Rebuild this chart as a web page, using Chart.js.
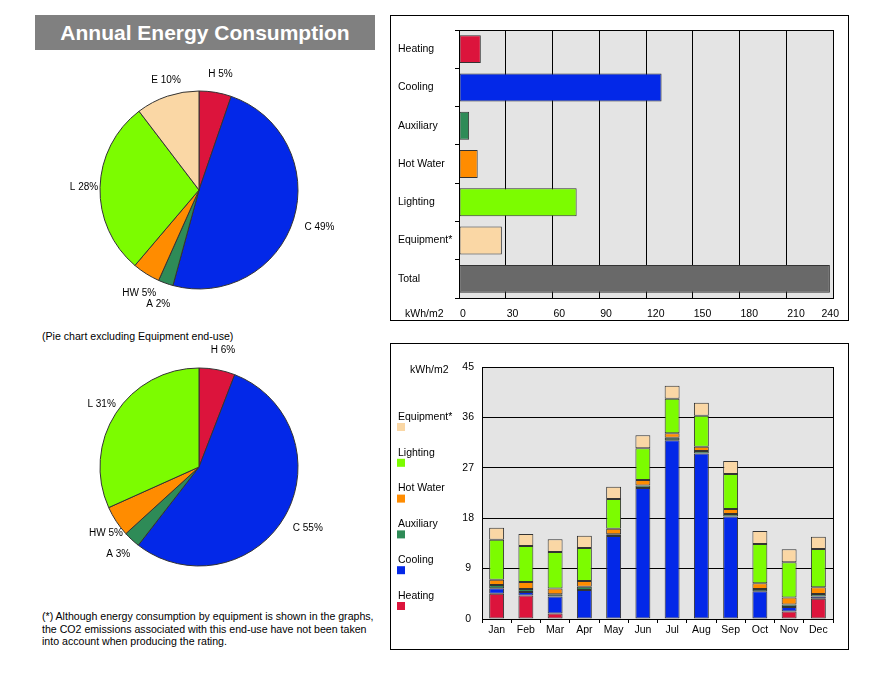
<!DOCTYPE html>
<html>
<head>
<meta charset="utf-8">
<script src="https://cdn.jsdelivr.net/npm/chart.js@4"></script>
<style>
  html, body { margin:0; padding:0; background:#fff; }
  body { width:894px; height:680px; position:relative; overflow:hidden; font-family:"Liberation Sans", Arial, sans-serif; color:#000; }
  .abs { position:absolute; }
  #title { left:35px; top:15px; width:340px; height:35px; background:#808080; color:#fff; font-weight:bold; font-size:21px; line-height:35px; text-align:center; }
  .panel { border:1px solid #000; box-sizing:border-box; }
  #sub { left:42px; top:330px; font-size:10.6px; white-space:nowrap; }
  #foot { left:42px; top:610px; font-size:10.6px; line-height:12.5px; white-space:nowrap; }
</style>
</head>
<body>
<div id="title" class="abs">Annual Energy Consumption</div>
<div id="sub" class="abs">(Pie chart excluding Equipment end-use)</div>
<div id="foot" class="abs">(*) Although energy consumption by equipment is shown in the graphs,<br>the CO2 emissions associated with this end-use have not been taken<br>into account when producing the rating.</div>
<div class="abs panel" style="left:390px;top:15px;width:459px;height:306px;"></div>
<div class="abs panel" style="left:390px;top:343px;width:459px;height:307px;"></div>
<canvas id="pie1" class="abs" width="300" height="300" style="left:49px;top:40px;"></canvas>
<canvas id="pie2" class="abs" width="300" height="300" style="left:49px;top:317px;"></canvas>
<canvas id="hbar" class="abs" width="456" height="304" style="left:391px;top:16px;"></canvas>
<canvas id="stack" class="abs" width="457" height="305" style="left:391px;top:344px;"></canvas>
<script>
// ---------- DATA ----------
const endUses = ['Heating', 'Cooling', 'Auxiliary', 'Hot Water', 'Lighting', 'Equipment*'];
const annualKwh = [14, 130, 6.5, 12, 75.5, 27.5];
const totalKwh = 238;
const barCategories = ['Heating', 'Cooling', 'Auxiliary', 'Hot Water', 'Lighting', 'Equipment*', 'Total'];
const barValues = [14, 130, 6.5, 12, 75.5, 27.5, 238];
const pieLabels1 = ['H 5%', 'C 49%', 'A 2%', 'HW 5%', 'L 28%', 'E 10%'];
const pieLabels2 = ['H 6%', 'C 55%', 'A 3%', 'HW 5%', 'L 31%'];
const xTicks = [0, 30, 60, 90, 120, 150, 180, 210, 240];
const months = ['Jan','Feb','Mar','Apr','May','Jun','Jul','Aug','Sep','Oct','Nov','Dec'];
const heating   = [4.5, 4.2, 1.0, 0,    0,    0,    0,    0,     0,    0,    1.35, 3.6];
const cooling   = [1.0, 0.6, 3.0, 5.2,  14.8, 23.4, 31.9, 29.55, 18.3, 4.95, 0.8,  0.4];
const auxiliary = [0.55,0.55,0.4, 0.55, 0.35, 0.45, 0.45, 0.45,  0.45, 0.4,  0.45, 0.45];
const hotWater  = [0.95,1.25,1.05,1.05, 0.95, 0.95, 0.8,  0.75,  0.9,  1.05, 1.25, 1.2];
const lighting  = [7.15,6.45,6.5, 5.9,  5.35, 5.7,  6.2,  5.55,  6.25, 7.0,  6.3,  6.85];
const equipment = [2.15,2.15,2.3, 2.15, 2.15, 2.3,  2.3,  2.3,   2.3,  2.3,  2.3,  2.2];
const monthlyTicks = [0, 9, 18, 27, 36, 45];

// ---------- STYLE ----------
const colors = ['#dc143c', '#0328e8', '#2e8b57', '#ff8c00', '#7cfc00', '#fad7a5'];
const totalColor = '#696969';
const plotBg = '#e4e4e4';
const edge = '#333333';
const FONT = '"Liberation Sans", Arial, sans-serif';
Chart.defaults.font.family = FONT;
Chart.defaults.color = '#000';
Chart.defaults.animation = false;

const pieLabelPlugin = {
  id: 'pieLabels',
  afterDraw(chart, args, opts) {
    const ctx = chart.ctx;
    const meta = chart.getDatasetMeta(0);
    ctx.save();
    ctx.font = '10px ' + FONT;
    ctx.fillStyle = '#000';
    ctx.textAlign = 'center';
    ctx.textBaseline = 'middle';
    meta.data.forEach((arc, i) => {
      const p = arc.getProps(['x','y','startAngle','endAngle','outerRadius'], true);
      const mid = (p.startAngle + p.endAngle) / 2 + (opts.nudge[i] || 0) * Math.PI / 180;
      const d = p.outerRadius + (opts.dist[i] || 20);
      ctx.fillText(opts.labels[i], p.x + Math.cos(mid) * d, p.y + Math.sin(mid) * d);
    });
    ctx.restore();
  }
};

function pieChart(id, values, cols, labels, dist, nudge) {
  new Chart(document.getElementById(id), {
    type: 'pie',
    data: { labels: labels, datasets: [{ data: values, backgroundColor: cols, borderColor: edge, borderWidth: 1 }] },
    options: {
      responsive: false,
      radius: 99,
      layout: { padding: 0 },
      plugins: { legend: { display: false }, tooltip: { enabled: false },
                 pieLabels: { labels: labels, dist: dist, nudge: nudge } }
    },
    plugins: [pieLabelPlugin]
  });
}
pieChart('pie1', annualKwh, colors, pieLabels1, [19, 27, 22, 20, 16, 16], [1, 0, 0, -2, 0, 2]);
pieChart('pie2', annualKwh.slice(0, 5), colors.slice(0, 5), pieLabels2, [20, 26, 20, 15, 17], [1, 0, 0, -2, 0]);

const plotFrame = {
  id: 'plotFrame',
  beforeDraw(chart) {
    const a = chart.chartArea, ctx = chart.ctx;
    ctx.save(); ctx.fillStyle = plotBg;
    ctx.fillRect(a.left, a.top, a.right - a.left, a.bottom - a.top);
    ctx.restore();
  },
  afterDatasetsDraw(chart) {
    const a = chart.chartArea, ctx = chart.ctx;
    ctx.save(); ctx.strokeStyle = '#000'; ctx.lineWidth = 1;
    ctx.strokeRect(Math.round(a.left) + 0.5, Math.round(a.top) + 0.5, Math.round(a.right - a.left), Math.round(a.bottom - a.top));
    ctx.restore();
  }
};

// ---------- Horizontal bar ----------
const hbarLabels = {
  id: 'hbarLabels',
  afterDraw(chart) {
    const ctx = chart.ctx, xs = chart.scales.x, a = chart.chartArea;
    ctx.save();
    ctx.font = '10.5px ' + FONT; ctx.fillStyle = '#000'; ctx.textBaseline = 'middle';
    const y = a.bottom + 16;
    xs.ticks.forEach((t, i) => {
      const px = xs.getPixelForValue(t.value);
      const last = i === xs.ticks.length - 1;
      ctx.textAlign = last ? 'right' : 'left';
      ctx.fillText(String(t.value), last ? px + 6 : px + 1, y);
    });
    ctx.textAlign = 'left';
    ctx.fillText('kWh/m2', 14, y);
    ctx.restore();
  }
};
new Chart(document.getElementById('hbar'), {
  type: 'bar',
  data: { labels: barCategories, datasets: [{ data: barValues, backgroundColor: colors.concat([totalColor]), borderColor: edge, borderWidth: 1, borderSkipped: false, barPercentage: 0.73, categoryPercentage: 1 }] },
  options: {
    indexAxis: 'y', responsive: false,
    layout: { padding: { left: 7, top: 14, right: 14, bottom: 0 } },
    plugins: { legend: { display: false }, tooltip: { enabled: false } },
    scales: {
      x: { min: 0, max: 240, afterBuildTicks: s => { s.ticks = xTicks.map(v => ({ value: v })); },
           ticks: { display: false }, grid: { color: '#000', drawTicks: false }, border: { color: '#000' },
           afterFit: s => { s.height = 22; } },
      y: { ticks: { crossAlign: 'far', font: { size: 10.5 }, color: '#000' },
           grid: { drawOnChartArea: false, tickLength: 4, color: '#000', offset: true }, border: { color: '#000' },
           afterFit: s => { s.width = 61; } }
    }
  },
  plugins: [plotFrame, hbarLabels]
});

// ---------- Stacked monthly ----------
const stackLegend = {
  id: 'stackLegend',
  afterDraw(chart) {
    const ctx = chart.ctx;
    const ds = chart.data.datasets.slice().reverse();
    ctx.save();
    ctx.font = '10.5px ' + FONT; ctx.textBaseline = 'middle'; ctx.textAlign = 'left';
    ds.forEach((d, i) => {
      const ty = 73 + i * 35.8;
      ctx.fillStyle = '#000';
      ctx.fillText(d.label, 7, ty);
      ctx.fillStyle = d.backgroundColor;
      ctx.fillRect(6, ty + 6, 8, 8);
    });
    ctx.fillStyle = '#000';
    ctx.fillText('kWh/m2', 19, 26);
    ctx.restore();
  }
};
const series = [heating, cooling, auxiliary, hotWater, lighting, equipment];
new Chart(document.getElementById('stack'), {
  type: 'bar',
  data: {
    labels: months,
    datasets: series.map((s, i) => ({ label: endUses[i], data: s, backgroundColor: colors[i], borderColor: edge, borderWidth: 1, borderSkipped: false, barPercentage: 0.51, categoryPercentage: 1 }))
  },
  options: {
    responsive: false,
    layout: { padding: { left: 0, top: 23, right: 15, bottom: 0 } },
    plugins: { legend: { display: false }, tooltip: { enabled: false } },
    scales: {
      x: { stacked: true, ticks: { font: { size: 10.5 }, color: '#000', padding: 1 },
           grid: { drawOnChartArea: false, tickLength: 4, color: '#000', offset: true }, border: { color: '#000' },
           afterFit: s => { s.height = 30; } },
      y: { stacked: true, min: 0, max: 45,
           afterBuildTicks: s => { s.ticks = monthlyTicks.map(v => ({ value: v })); },
           ticks: { crossAlign: 'center', padding: 8, font: { size: 10.5 }, color: '#000' },
           grid: { color: '#000', drawTicks: false }, border: { color: '#000' },
           afterFit: s => { s.width = 91; } }
    }
  },
  plugins: [plotFrame, stackLegend]
});
</script>
</body>
</html>
